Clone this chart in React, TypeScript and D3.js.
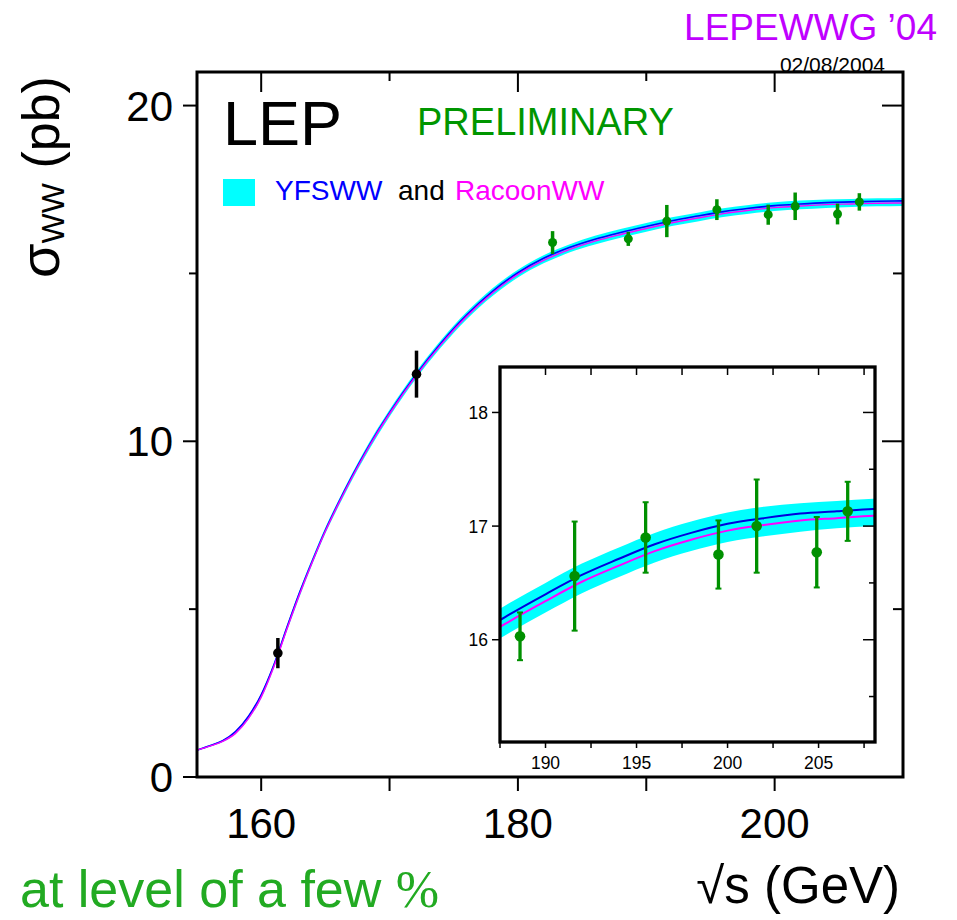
import * as d3 from "d3";

// theory curves (sqrt(s) in GeV, sigma in pb)
const energies = [155, 156, 157, 158, 159, 160, 161, 162, 163, 164, 165, 166, 167, 168, 169, 170, 172, 174, 176, 178, 180, 182, 184, 186, 188, 190, 192, 194, 196, 198, 200, 202, 204, 206, 208, 210];
const yfsww = [0.80, 0.93, 1.08, 1.35, 1.80, 2.45, 3.35, 4.45, 5.50, 6.45, 7.35, 8.15, 8.90, 9.60, 10.25, 10.85, 11.95, 12.92, 13.76, 14.46, 15.02, 15.45, 15.77, 16.02, 16.22, 16.40, 16.57, 16.71, 16.84, 16.94, 17.02, 17.07, 17.11, 17.13, 17.15, 17.16];
const racoonww = [0.80, 0.92, 1.06, 1.30, 1.74, 2.38, 3.30, 4.40, 5.45, 6.42, 7.32, 8.12, 8.87, 9.57, 10.22, 10.82, 11.92, 12.88, 13.72, 14.41, 14.97, 15.39, 15.71, 15.96, 16.16, 16.34, 16.51, 16.65, 16.78, 16.88, 16.96, 17.01, 17.05, 17.07, 17.09, 17.10];
const bandLo = [0.78, 0.90, 1.04, 1.28, 1.71, 2.34, 3.25, 4.34, 5.38, 6.35, 7.25, 8.04, 8.79, 9.48, 10.13, 10.73, 11.83, 12.79, 13.63, 14.32, 14.88, 15.30, 15.62, 15.86, 16.06, 16.24, 16.41, 16.55, 16.68, 16.78, 16.86, 16.91, 16.95, 16.98, 17.00, 17.01];
const bandHi = [0.82, 0.95, 1.10, 1.37, 1.83, 2.49, 3.40, 4.51, 5.57, 6.53, 7.43, 8.23, 8.98, 9.69, 10.34, 10.94, 12.04, 13.01, 13.85, 14.55, 15.11, 15.54, 15.86, 16.12, 16.32, 16.50, 16.67, 16.81, 16.94, 17.04, 17.12, 17.17, 17.20, 17.22, 17.24, 17.25];

// measurements
const earlyE = [161.3, 172.1];
const earlySigma = [3.69, 12.0];
const earlyErr = [0.45, 0.7];

const lep2E = [182.7, 188.6, 191.6, 195.5, 199.5, 201.6, 204.9, 206.6];
const lep2Sigma = [15.92, 16.03, 16.56, 16.90, 16.75, 17.00, 16.77, 17.13];
const lep2Err = [0.34, 0.21, 0.48, 0.31, 0.30, 0.41, 0.31, 0.26];

// ticks
const mainXTicks = [160, 180, 200];
const mainXMinor = [170, 190];
const mainYTicks = [0, 10, 20];
const mainYMinor = [5, 15];
const insetXTicks = [190, 195, 200, 205];
const insetXMinor = [187.5, 192.5, 197.5, 202.5, 207.5];
const insetYTicks = [16, 17, 18];
const insetYMinor = [15.5, 16.5, 17.5];

const FONT = "'Liberation Sans', Arial, Helvetica, sans-serif";
const GREEN = "#009000";

export default function App() {
  const x = d3.scaleLinear().domain([155, 210]).range([197, 903]);
  const y = d3.scaleLinear().domain([0, 21]).range([777, 72]);
  const xi = d3.scaleLinear().domain([187.5, 208.1]).range([500, 875]);
  const yi = d3.scaleLinear().domain([15.1, 18.4]).range([742, 367]);

  const idx = d3.range(energies.length);
  const mkLine = (sx: any, sy: any, vals: number[]) =>
    d3.line<number>().x((i) => sx(energies[i])).y((i) => sy(vals[i])).curve(d3.curveMonotoneX)(idx) || "";
  const mkBand = (sx: any, sy: any) =>
    d3.area<number>().x((i) => sx(energies[i])).y0((i) => sy(bandLo[i])).y1((i) => sy(bandHi[i])).curve(d3.curveMonotoneX)(idx) || "";

  const [x0, x1] = x.range();
  const [y0, y1] = y.range();
  const [xi0, xi1] = xi.range();
  const [yi0, yi1] = yi.range();

  return (
    <svg width={957} height={920} style={{ position: "absolute", left: 0, top: 0, background: "#fff" }} fontFamily={FONT}>
      <defs>
        <clipPath id="mainClip">
          <rect x={x0} y={y1} width={x1 - x0} height={y0 - y1} />
        </clipPath>
        <clipPath id="insetClip">
          <rect x={xi0} y={yi1} width={xi1 - xi0} height={yi0 - yi1} />
        </clipPath>
      </defs>

      {/* header */}
      <text x={937} y={40} textAnchor="end" fontSize={37} fill="#c000ff">LEPEWWG ’04</text>
      <text x={885} y={72} textAnchor="end" fontSize={21} fill="#000">02/08/2004</text>

      {/* main curves */}
      <g clipPath="url(#mainClip)">
        <path d={mkBand(x, y)} fill="#00ffff" />
        <path d={mkLine(x, y, yfsww)} fill="none" stroke="#0000ff" strokeWidth={1.6} />
        <path d={mkLine(x, y, racoonww)} fill="none" stroke="#ff00ff" strokeWidth={1.4} />
      </g>

      {/* main points */}
      {earlyE.map((e, i) => (
        <g key={"e" + i}>
          <line x1={x(e)} x2={x(e)} y1={y(earlySigma[i] - earlyErr[i])} y2={y(earlySigma[i] + earlyErr[i])} stroke="#000" strokeWidth={3.5} />
          <circle cx={x(e)} cy={y(earlySigma[i])} r={4.8} fill="#000" />
        </g>
      ))}
      {lep2E.map((e, i) => (
        <g key={"l" + i}>
          <line x1={x(e)} x2={x(e)} y1={y(lep2Sigma[i] - lep2Err[i])} y2={y(lep2Sigma[i] + lep2Err[i])} stroke={GREEN} strokeWidth={3.5} />
          <circle cx={x(e)} cy={y(lep2Sigma[i])} r={4.5} fill={GREEN} />
        </g>
      ))}

      {/* main frame & ticks */}
      <rect x={x0} y={y1} width={x1 - x0} height={y0 - y1} fill="none" stroke="#000" strokeWidth={3} />
      {mainXTicks.map((t) => (
        <g key={"mx" + t}>
          <line x1={x(t)} x2={x(t)} y1={y0} y2={y0 + 14} stroke="#000" strokeWidth={2} />
          <line x1={x(t)} x2={x(t)} y1={y1} y2={y1 + 20} stroke="#000" strokeWidth={2} />
          <text x={x(t)} y={838} textAnchor="middle" fontSize={42}>{t}</text>
        </g>
      ))}
      {mainXMinor.map((t) => (
        <g key={"mxm" + t}>
          <line x1={x(t)} x2={x(t)} y1={y0} y2={y0 + 14} stroke="#000" strokeWidth={2} />
          <line x1={x(t)} x2={x(t)} y1={y1} y2={y1 + 9} stroke="#000" strokeWidth={2} />
        </g>
      ))}
      {mainYTicks.map((t) => (
        <g key={"my" + t}>
          <line x1={x0 - 14} x2={x0} y1={y(t)} y2={y(t)} stroke="#000" strokeWidth={2} />
          <line x1={x1 - 21} x2={x1} y1={y(t)} y2={y(t)} stroke="#000" strokeWidth={2} />
          <text x={173} y={y(t) + 15} textAnchor="end" fontSize={42}>{t}</text>
        </g>
      ))}
      {mainYMinor.map((t) => (
        <g key={"mym" + t}>
          <line x1={x0 - 8} x2={x0} y1={y(t)} y2={y(t)} stroke="#000" strokeWidth={2} />
          <line x1={x1 - 10} x2={x1} y1={y(t)} y2={y(t)} stroke="#000" strokeWidth={2} />
        </g>
      ))}

      {/* labels inside main */}
      <text x={223} y={145} fontSize={63}>LEP</text>
      <text x={417} y={135} fontSize={38} fill="#009600">PRELIMINARY</text>
      <rect x={223} y={179} width={32} height={27} fill="#00ffff" />
      <text x={275} y={200} fontSize={28} fill="#0000ff">YFSWW</text>
      <text x={398} y={200} fontSize={28} fill="#000">and</text>
      <text x={455} y={200} fontSize={28} fill="#ff00ff">RacoonWW</text>

      {/* axis titles */}
      <text transform="translate(59,278) rotate(-90)" fontSize={52}>
        <tspan fontSize={56}>σ</tspan>
        <tspan fontSize={32} dy={5}>WW</tspan>
        <tspan dy={-5}> (pb)</tspan>
      </text>
      <text x={900} y={903} textAnchor="end" fontSize={51}>√s (GeV)</text>
      <text x={20} y={907} fontSize={52} fill="#22aa22">
        at level of a few <tspan fontFamily="'Liberation Serif', 'DejaVu Serif', serif">%</tspan>
      </text>

      {/* inset */}
      <rect x={xi0} y={yi1} width={xi1 - xi0} height={yi0 - yi1} fill="#fff" />
      <g clipPath="url(#insetClip)">
        <path d={mkBand(xi, yi)} fill="#00ffff" />
        <path d={mkLine(xi, yi, yfsww)} fill="none" stroke="#0000dd" strokeWidth={2} />
        <path d={mkLine(xi, yi, racoonww)} fill="none" stroke="#ff00ff" strokeWidth={2} />
      </g>
      {lep2E.filter((e) => e >= 187.5).map((e) => {
        const i = lep2E.indexOf(e);
        const top = yi(lep2Sigma[i] + lep2Err[i]);
        const bot = yi(lep2Sigma[i] - lep2Err[i]);
        return (
          <g key={"il" + i}>
            <line x1={xi(e)} x2={xi(e)} y1={top} y2={bot} stroke={GREEN} strokeWidth={3.3} />
            <line x1={xi(e) - 3} x2={xi(e) + 3} y1={top} y2={top} stroke={GREEN} strokeWidth={2} />
            <line x1={xi(e) - 3} x2={xi(e) + 3} y1={bot} y2={bot} stroke={GREEN} strokeWidth={2} />
            <circle cx={xi(e)} cy={yi(lep2Sigma[i])} r={5.3} fill={GREEN} />
          </g>
        );
      })}
      <rect x={xi0} y={yi1} width={xi1 - xi0} height={yi0 - yi1} fill="none" stroke="#000" strokeWidth={3.3} />
      {insetXTicks.map((t) => (
        <g key={"ix" + t}>
          <line x1={xi(t)} x2={xi(t)} y1={yi0} y2={yi0 + 6} stroke="#000" strokeWidth={1.5} />
          <line x1={xi(t)} x2={xi(t)} y1={yi1} y2={yi1 + 8} stroke="#000" strokeWidth={1.5} />
          <text x={xi(t)} y={769} textAnchor="middle" fontSize={17.5}>{t}</text>
        </g>
      ))}
      {insetXMinor.map((t) => (
        <g key={"ixm" + t}>
          <line x1={xi(t)} x2={xi(t)} y1={yi0} y2={yi0 + 6} stroke="#000" strokeWidth={1.5} />
          {t > 188 && <line x1={xi(t)} x2={xi(t)} y1={yi1} y2={yi1 + 8} stroke="#000" strokeWidth={1.5} />}
        </g>
      ))}
      {insetYTicks.map((t) => (
        <g key={"iy" + t}>
          <line x1={xi0 - 8} x2={xi0} y1={yi(t)} y2={yi(t)} stroke="#000" strokeWidth={1.5} />
          <line x1={xi1 - 12} x2={xi1} y1={yi(t)} y2={yi(t)} stroke="#000" strokeWidth={1.5} />
          <text x={488} y={yi(t) + 6.5} textAnchor="end" fontSize={17.5}>{t}</text>
        </g>
      ))}
      {insetYMinor.map((t) => (
        <line key={"iym" + t} x1={xi1 - 6} x2={xi1} y1={yi(t)} y2={yi(t)} stroke="#000" strokeWidth={1.5} />
      ))}
    </svg>
  );
}
